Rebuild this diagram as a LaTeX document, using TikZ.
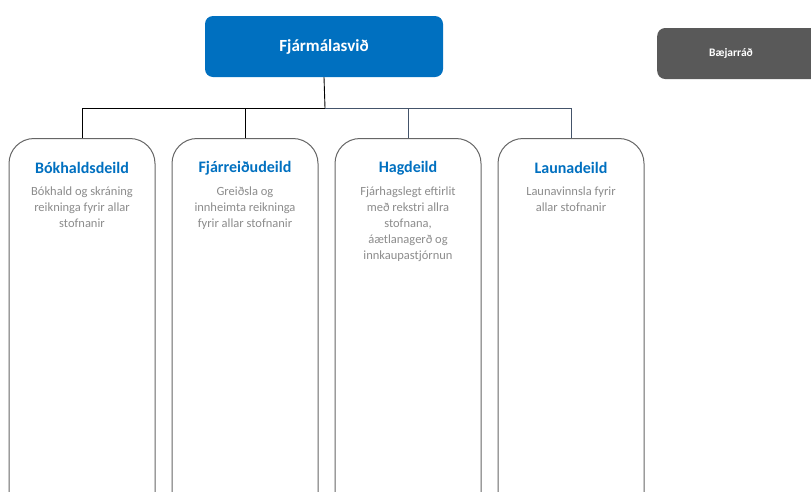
\documentclass[tikz,border=0pt]{standalone}
\usepackage{fontspec}
\setmainfont{Carlito}
\usetikzlibrary{positioning}
\definecolor{svidblue}{HTML}{0070C0}
\definecolor{radgrey}{HTML}{595959}
\definecolor{txtgrey}{HTML}{8C8C8C}
\definecolor{linenavy}{HTML}{44546A}
\tikzset{
  svidbox/.style={fill=svidblue,rounded corners=8pt,minimum width=238pt,minimum height=61pt,
    text=white,font=\bfseries\fontsize{17}{19}\selectfont},
  radbox/.style={fill=radgrey,rounded corners=8pt,minimum width=170pt,minimum height=51pt,anchor=west},
  deildbox/.style={draw=black!60,line width=1pt,rounded corners=25pt,minimum width=146pt,
    minimum height=380pt,anchor=north},
  deildtitle/.style={text=svidblue,font=\bfseries\fontsize{16}{18}\selectfont},
  deildtext/.style={text=txtgrey,align=center,anchor=north,font=\fontsize{12.5}{16}\selectfont},
  tengi/.style={line width=0.9pt}
}
\begin{document}
\begin{tikzpicture}[inner sep=0mm,x=1pt,y=-1pt]
  \useasboundingbox (0,0) rectangle (811,491);
  \clip (0,0) rectangle (811,491);
  \fill[white] (0,0) rectangle (811,491);

  \node[svidbox] (svid) at (324,46.5) {Fjármálasvið};
  \node[radbox] (rad) at (657,53.5) {};
  \node[text=white,font=\bfseries\fontsize{11.5}{13}\selectfont] (radtxt) at (731,53.5) {Bæjarráð};

  \coordinate (mid) at (325,108);
  \foreach \i/\x/\nm/\txt in {
      1/82/Bókhaldsdeild/{Bókhald og skráning\\reikninga fyrir allar\\stofnanir},
      2/245/Fjárreiðudeild/{Greiðsla og\\innheimta reikninga\\fyrir allar stofnanir},
      3/408/Hagdeild/{Fjárhagslegt eftirlit\\með rekstri allra\\stofnana,\\áætlanagerð og\\innkaupastjórnun},
      4/571/Launadeild/{Launavinnsla fyrir\\allar stofnanir}} {
    \node[deildbox] (d_\i) at (\x,138) {};
    \node[deildtitle] (t_\i) at (\x,168) {\nm};
    \node[deildtext] (x_\i) at (\x,187) {\txt};
    \coordinate (k_\i) at (\x,108);
  }

  % tengingar
  \draw[tengi] (svid.south) -- (mid);
  \draw[tengi] (mid) -- (k_1) -- (d_1.north);
  \draw[tengi] (k_2) -- (d_2.north);
  \draw[tengi,linenavy] (mid) -- (k_4) -- (d_4.north);
  \draw[tengi,linenavy] (k_3) -- (d_3.north);
\end{tikzpicture}
\end{document}
